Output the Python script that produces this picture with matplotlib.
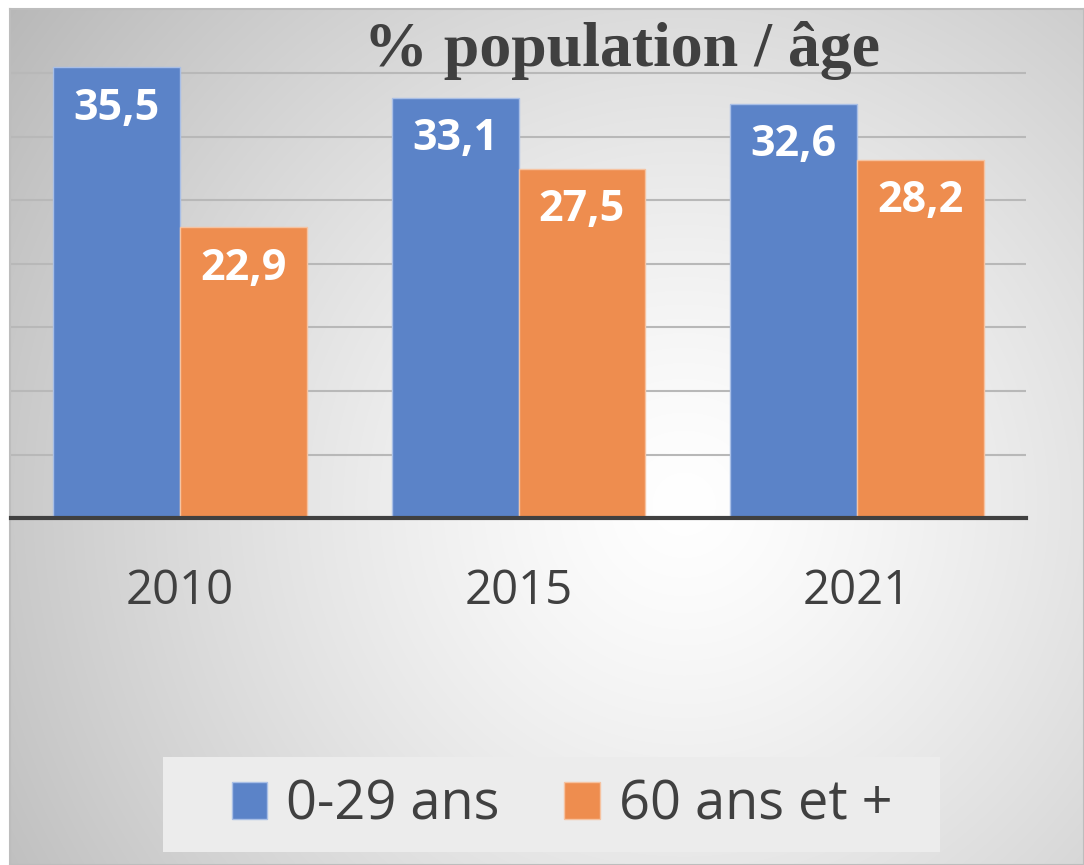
import numpy as np
import matplotlib.pyplot as plt
from matplotlib.patches import Rectangle

years = ['2010', '2015', '2021']
young = [35.5, 33.1, 32.6]
old = [22.9, 27.5, 28.2]
labels = ['0-29 ans', '60 ans et +']

W, H = 1084, 865
fig = plt.figure(figsize=(W / 100, H / 100), dpi=100)
fig.patch.set_facecolor('white')

# background panel with radial gradient
bg = fig.add_axes([10 / W, 0, 1 - 10 / W, 1 - 9 / H])
yy, xx = np.mgrid[0:H, 0:W]
r = np.hypot(xx - 680, yy - 500) / 780
g = np.clip(1.0 - 0.25 * r ** 1.3, 0, 1)
bg.imshow(np.dstack([g, g, g]), extent=[0, 1, 0, 1], aspect='auto')
bg.set_xticks([])
bg.set_yticks([])
for s in bg.spines.values():
    s.set_color('#bdbdbd')
    s.set_linewidth(1.5)

# legend box
bg.add_patch(Rectangle(((163 - 10) / (W - 10), (H - 852) / (H - 9)),
                       777 / (W - 10), 95 / (H - 9),
                       transform=bg.transAxes, facecolor='#ececec',
                       edgecolor='none', zorder=2))

ax = fig.add_axes([11 / W, (H - 518) / H, (1026 - 11) / W, (518 - 10) / H])
ax.patch.set_alpha(0)
x = np.arange(len(years))
bw = 0.375
b1 = ax.bar(x - bw / 2, young, bw, color='#5b83c8', edgecolor='#a9bfe6',
            linewidth=1, label=labels[0], zorder=3)
b2 = ax.bar(x + bw / 2, old, bw, color='#ee8d4f', edgecolor='#f6c3a1',
            linewidth=1, label=labels[1], zorder=3)
ax.set_xlim(-0.5, 2.5)
ax.set_ylim(0, 40)
ax.set_yticks(range(5, 40, 5))
ax.yaxis.grid(True, color='#b8b8b8', linewidth=1.5, zorder=1)
ax.tick_params(left=False, labelleft=False, bottom=False, labelsize=34,
               labelcolor='#404040', pad=32)
ax.set_xticks(x)
ax.set_xticklabels(years, family=['Open Sans', 'DejaVu Sans'])
for k in ['left', 'right', 'top']:
    ax.spines[k].set_visible(False)
ax.spines['bottom'].set_color('#404040')
ax.spines['bottom'].set_linewidth(3)
ax.spines['bottom'].set_zorder(4)

for bars in (b1, b2):
    for b in bars:
        ax.annotate(f'{b.get_height():.1f}'.replace('.', ','),
                    (b.get_x() + b.get_width() / 2, b.get_height()),
                    xytext=(0, -41), textcoords='offset pixels',
                    ha='center', va='center', color='white', fontsize=31,
                    fontweight='bold', family=['Open Sans', 'DejaVu Sans'],
                    zorder=5)

fig.text(622 / W, 1 - 50 / H, '% population / âge', ha='center', va='center',
         fontsize=46, fontweight='bold', color='#404040',
         family=['Liberation Serif', 'DejaVu Serif'])

leg = fig.legend(handles=[b1, b2], labels=labels, loc='center',
                 bbox_to_anchor=(562 / W, 1 - 805 / H), ncol=2, frameon=False,
                 prop={'family': ['Open Sans', 'DejaVu Sans'], 'size': 39},
                 handlelength=0.65, handleheight=0.65, handletextpad=0.35,
                 columnspacing=1.2, borderpad=0)
for t in leg.get_texts():
    t.set_color('#404040')

fig.savefig('out.png', dpi=100)
